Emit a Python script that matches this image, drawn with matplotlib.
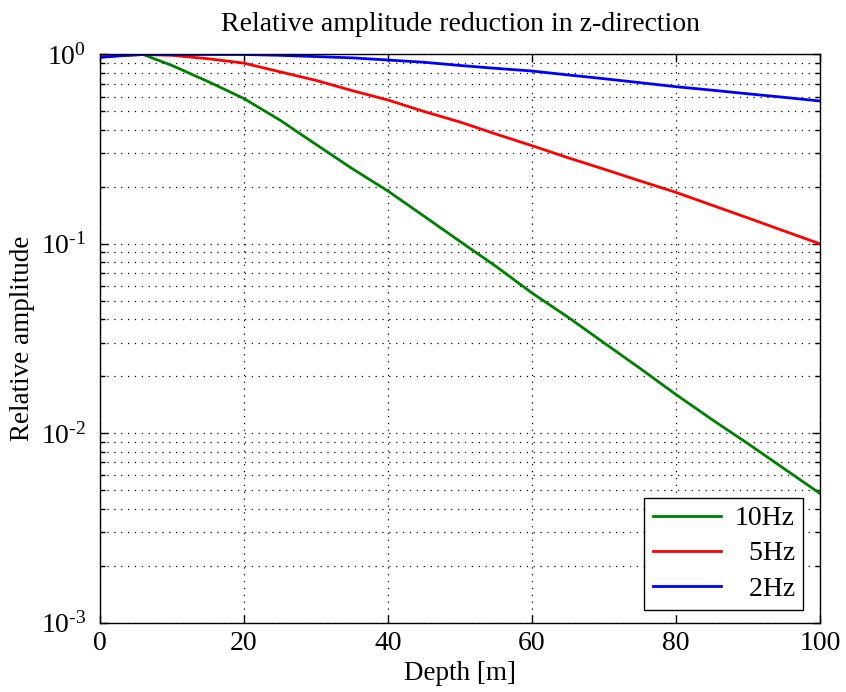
import matplotlib
matplotlib.use('Agg')
import matplotlib.pyplot as plt
import numpy as np
from matplotlib.ticker import LogLocator, NullFormatter, FuncFormatter

plt.rcParams['font.family'] = ['Liberation Serif', 'DejaVu Serif']
plt.rcParams['mathtext.fontset'] = 'custom'
plt.rcParams['mathtext.rm'] = 'Liberation Serif'
plt.rcParams['mathtext.it'] = 'Liberation Serif:italic'

depth = [0, 3, 6, 10, 15, 20, 25, 30, 35, 40, 45, 50,
         55, 60, 65, 70, 75, 80, 85, 90, 95, 100]

amp_10hz = [0.97, 1.0, 1.0, 0.875, 0.72, 0.585, 0.45, 0.335, 0.25, 0.19, 0.14, 0.103,
            0.076, 0.055, 0.041, 0.030, 0.022, 0.016, 0.0118, 0.0088, 0.0065, 0.0048]
amp_5hz = [0.97, 0.99, 1.0, 0.99, 0.95, 0.90, 0.81, 0.73, 0.645, 0.575, 0.50, 0.44,
           0.38, 0.33, 0.285, 0.248, 0.215, 0.187, 0.16, 0.137, 0.117, 0.10]
amp_2hz = [0.965, 0.985, 1.0, 1.0, 1.0, 1.0, 0.99, 0.975, 0.96, 0.935, 0.91, 0.875,
           0.845, 0.818, 0.78, 0.745, 0.71, 0.676, 0.648, 0.62, 0.594, 0.568]

labels = ['10Hz', '  5Hz', '  2Hz']
colors = ['#008000', '#ff0000', '#0000ff']


def pow10(v, pos):
    # short hyphen in the exponent instead of a math minus
    e = int(round(np.log10(v)))
    s = str(abs(e))
    if e < 0:
        s = '\u2010' + s
    return r'$\mathdefault{10^{' + s + '}}$'


fig = plt.figure(figsize=(8.46, 6.92), dpi=100)
ax = fig.add_axes([100/846, 1 - 622.5/692, 720/846, 568/692])

for amp, lab, col in zip([amp_10hz, amp_5hz, amp_2hz], labels, colors):
    ax.semilogy(depth, amp, color=col, lw=2.0, label=lab)

ax.set_xlim(0, 100)
ax.set_ylim(1e-3, 1)
ax.set_xticks([0, 20, 40, 60, 80, 100])
ax.yaxis.set_major_locator(LogLocator(base=10, numticks=10))
ax.yaxis.set_major_formatter(FuncFormatter(pow10))
ax.yaxis.set_minor_locator(LogLocator(base=10, subs=range(2, 10), numticks=20))
ax.yaxis.set_minor_formatter(NullFormatter())

ax.grid(True, which='major', axis='both', color='k', ls=(0, (1, 4.5)), lw=0.9)
ax.grid(True, which='minor', axis='y', color='k', ls=(0, (1, 4.5)), lw=0.9)

ax.tick_params(which='both', direction='in', top=True, right=True, labelsize=20, color='k')
ax.tick_params(which='major', length=6, width=1)
ax.tick_params(which='minor', length=3.5, width=1)
ax.tick_params(axis='x', pad=6)
ax.tick_params(axis='y', pad=10)
for s in ax.spines.values():
    s.set_linewidth(1.0)
    s.set_color('k')

ax.set_title('Relative amplitude reduction in z-direction', fontsize=20, pad=17)
ax.set_xlabel('Depth [m]', fontsize=19.5, labelpad=4)
ax.set_ylabel('Relative amplitude', fontsize=19.5, labelpad=4)

leg = ax.legend(loc='lower right', bbox_to_anchor=((803 - 100) / 720, (622.5 - 610) / 568),
                borderaxespad=0, fontsize=20, handlelength=2.45, handletextpad=0.5,
                labelspacing=0.35, fancybox=False, framealpha=1, edgecolor='k',
                borderpad=0.3)
leg.get_frame().set_linewidth(1.0)

fig.savefig('out.png', dpi=100)
